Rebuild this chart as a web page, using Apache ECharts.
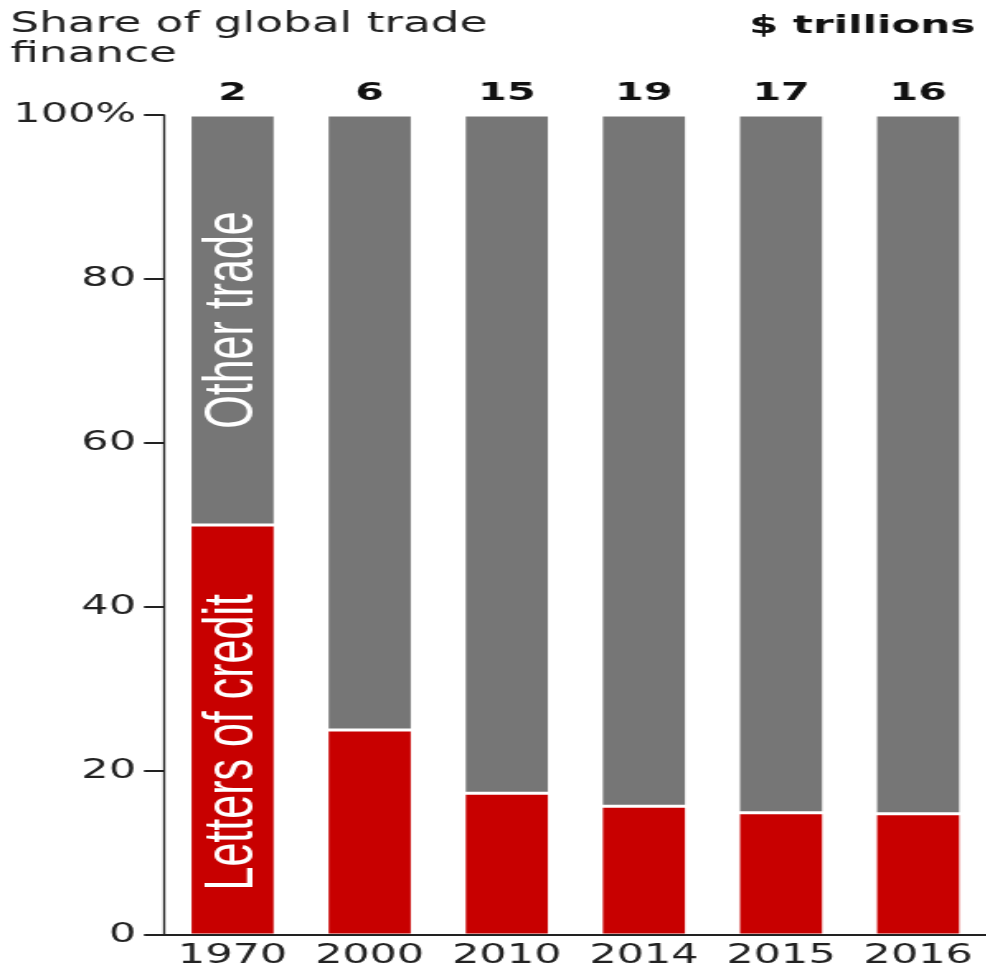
<!DOCTYPE html>
<html>
<head>
<meta charset="utf-8">
<script src="https://cdn.jsdelivr.net/npm/echarts@6/dist/echarts.min.js"></script>
<style>
html,body{margin:0;padding:0;background:#fff;overflow:hidden;width:986px;height:973px;}
#chart{height:973px;transform-origin:0 0;}
</style>
</head>
<body>
<div id="chart"></div>
<script>
// ---- data ----
const categories = ['1970', '2000', '2010', '2014', '2015', '2016'];
const totalsTrillions = ['2', '6', '15', '19', '17', '16'];
const lettersOfCredit = [50, 25, 17.3, 15.7, 14.9, 14.8];
const otherTrade = [50, 75, 82.7, 84.3, 85.1, 85.2];
const yTickLabels = {0: '0', 20: '20', 40: '40', 60: '60', 80: '80', 100: '100%'};
const titleLeft = 'Share of global trade\nfinance';
const titleRight = '$ trillions';

// horizontal stretch of the original artwork
const S = 1.65;
const W = 986 / S;
const el = document.getElementById('chart');
el.style.width = W + 'px';
el.style.transform = 'scaleX(' + S + ')';

const chart = echarts.init(el, null, {renderer: 'canvas'});
const font = 'DejaVu Sans, Verdana, sans-serif';
const RED = '#c80000';
const GREY = '#767676';

const option = {
  animation: false,
  backgroundColor: '#fff',
  title: [
    {text: titleLeft, left: 2 / S, top: 5,
     textStyle: {fontFamily: font, fontSize: 27.5, fontWeight: 'normal', color: '#222', lineHeight: 30}},
    {text: titleRight, right: 3 / S, top: 8,
     textStyle: {fontFamily: font, fontSize: 25.5, fontWeight: 'bold', color: '#111'}}
  ],
  grid: {left: 164 / S, width: 825 / S, top: 115, height: 820, containLabel: false},
  xAxis: [
    {type: 'category', data: categories, position: 'bottom', z: 5,
     axisLine: {lineStyle: {color: '#222', width: 2}},
     axisTick: {show: false},
     axisLabel: {interval: 0, fontFamily: font, fontSize: 26, color: '#222', margin: 8}},
    {type: 'category', data: totalsTrillions, position: 'top',
     axisLine: {show: false}, axisTick: {show: false},
     axisLabel: {interval: 0, fontFamily: font, fontSize: 25, fontWeight: 'bold', color: '#111', margin: 9}}
  ],
  yAxis: {
    type: 'value', min: 0, max: 100, interval: 20, z: 5,
    axisLine: {show: true, lineStyle: {color: '#222', width: 1.3}},
    axisTick: {show: true, length: 20 / S, lineStyle: {color: '#222', width: 2}},
    splitLine: {show: false},
    axisLabel: {fontFamily: font, fontSize: 26, color: '#222', margin: 28 / S,
                formatter: v => yTickLabels[v]}
  },
  series: [
    {
      name: 'Letters of credit', type: 'bar', stack: 'total', xAxisIndex: 0,
      barWidth: 87 / S,
      itemStyle: {color: RED, borderColor: '#fff', borderWidth: 1.5},
      data: lettersOfCredit.map((v, i) => i === 0 ? {
        value: v,
        label: {show: true, formatter: 'Letters of credit', position: ['50%', '53%'],
                rotate: 90, align: 'center', verticalAlign: 'middle',
                fontFamily: 'Liberation Sans, Arial, sans-serif', fontSize: 43, color: '#fff'}
      } : v)
    },
    {
      name: 'Other trade', type: 'bar', stack: 'total', xAxisIndex: 0,
      barWidth: 87 / S,
      itemStyle: {color: GREY, borderColor: '#fff', borderWidth: 1.5},
      data: otherTrade.map((v, i) => i === 0 ? {
        value: v,
        label: {show: true, formatter: 'Other trade', position: ['50%', '50%'],
                rotate: 90, align: 'center', verticalAlign: 'middle',
                fontFamily: 'Liberation Sans, Arial, sans-serif', fontSize: 43, color: '#fff'}
      } : v)
    }
  ]
};
chart.setOption(option);
</script>
</body>
</html>
